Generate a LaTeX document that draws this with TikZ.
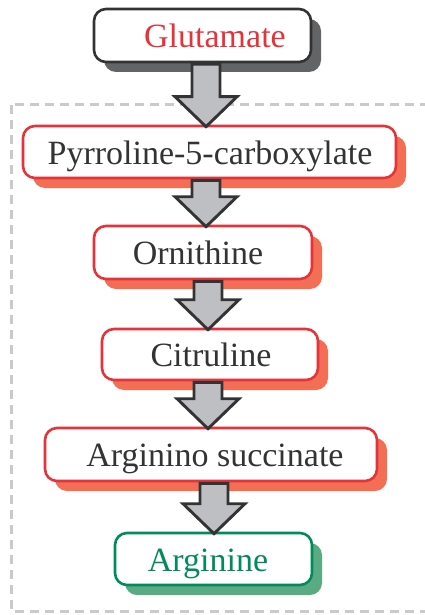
\documentclass[tikz,border=0pt]{standalone}
\usepackage{fontspec}
\setmainfont{Liberation Serif}
\usetikzlibrary{shadows,calc}
\definecolor{boxred}{HTML}{E8323A}
\definecolor{shred}{HTML}{F26F55}
\definecolor{shgrey}{HTML}{636466}
\definecolor{dark}{HTML}{333333}
\definecolor{boxgreen}{HTML}{008C5A}
\definecolor{shgreen}{HTML}{5AAB84}
\definecolor{arrfill}{HTML}{BEBFC2}
\definecolor{dashgrey}{HTML}{CACACA}
\newcommand\fatarr[3]{%
  \draw[fat] let \p1=(#1.south), \p2=(#2.north) in
    (#3pt-14pt,\y1-1pt) -- (#3pt-14pt,\y2+28pt) -- (#3pt-31pt,\y2+28pt) --
    (#3pt,\y2-2pt) -- (#3pt+31pt,\y2+28pt) -- (#3pt+14pt,\y2+28pt) --
    (#3pt+14pt,\y1-1pt) -- cycle;}
\begin{document}
\begin{tikzpicture}[x=1pt,y=-1pt,
  box/.style={draw, line width=2.6pt, rounded corners=12pt, fill=white, inner sep=0pt},
  greybox/.style={box, draw=dark, general shadow={fill=shgrey, shadow xshift=10pt, shadow yshift=-10pt}},
  redbox/.style={box, draw=boxred, general shadow={fill=shred, shadow xshift=10pt, shadow yshift=-10pt}},
  greenbox/.style={box, draw=boxgreen, general shadow={fill=shgreen, shadow xshift=10pt, shadow yshift=-10pt}},
  lbl/.style={anchor=base, font=\fontsize{34}{40}\selectfont, inner sep=0pt, text=dark},
  fat/.style={draw=dark, fill=arrfill, line width=2.9pt, line join=miter},
  frame/.style={draw=dashgrey, line width=3pt, dash pattern=on 9pt off 6pt}]
\useasboundingbox (0,0) rectangle (425,615);
\draw[frame] (11,105) rectangle (434,611);
\node[greybox, minimum width=217pt, minimum height=53pt] (g) at (202.5,35.5) {};
\node[redbox, minimum width=373pt, minimum height=52pt] (p) at (209.5,152) {};
\node[redbox, minimum width=218pt, minimum height=53pt] (o) at (203,252.5) {};
\node[redbox, minimum width=216pt, minimum height=51pt] (c) at (210,354.5) {};
\node[redbox, minimum width=332pt, minimum height=53pt] (s) at (211,454.5) {};
\node[greenbox, minimum width=197pt, minimum height=52pt] (a) at (213.5,559) {};
\node[lbl, text=boxred] (tg) at (215,47.5) {Glutamate};
\node[lbl] (tp) at (210,164) {Pyrroline-5-carboxylate};
\node[lbl] (to) at (198,264.5) {Ornithine};
\node[lbl] (tc) at (211,366.5) {Citruline};
\node[lbl] (ts) at (215,466.5) {Arginino succinate};
\node[lbl, text=boxgreen] (ta) at (208,571) {Arginine};
\fatarr{g}{p}{206}
\fatarr{p}{o}{206}
\fatarr{o}{c}{208}
\fatarr{c}{s}{208}
\fatarr{s}{a}{214}
\end{tikzpicture}
\end{document}
